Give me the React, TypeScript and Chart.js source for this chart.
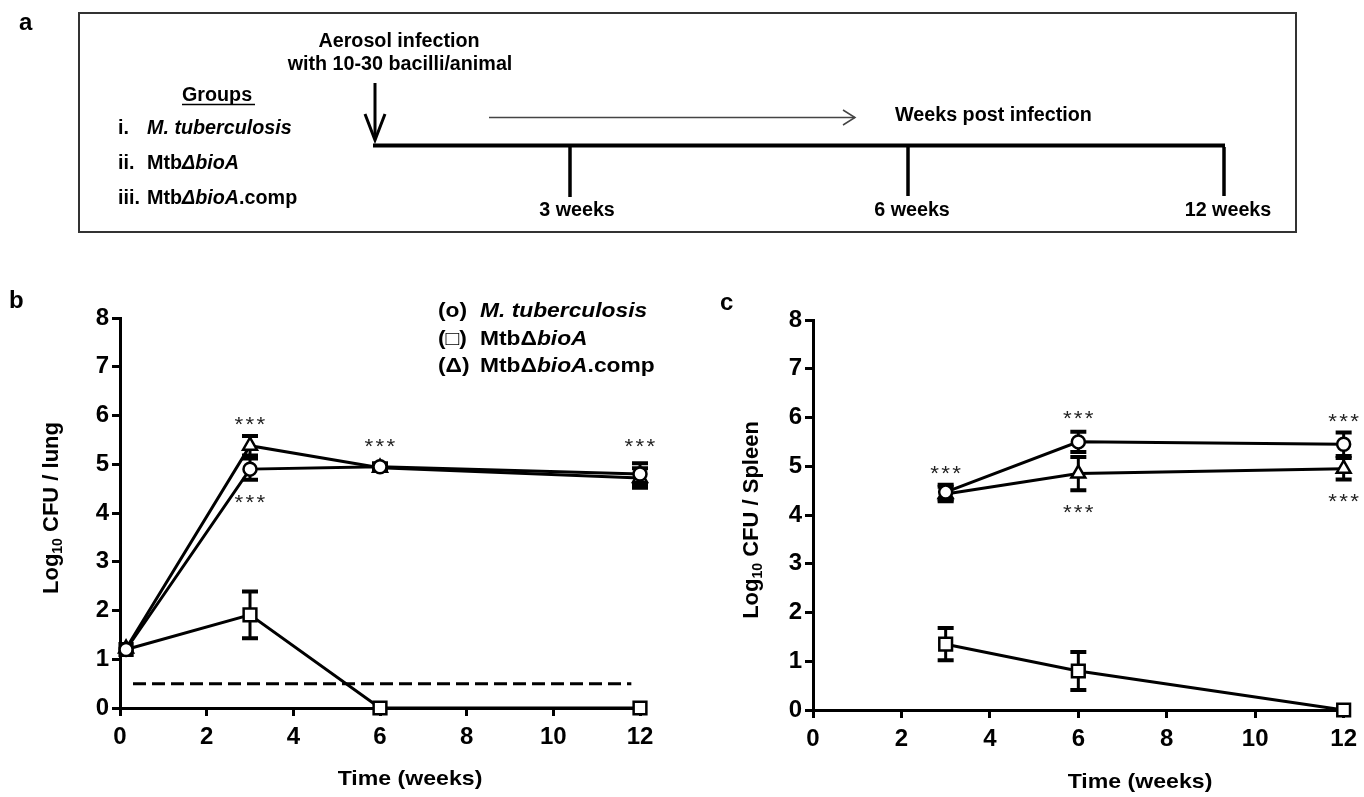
import React, { useEffect, useRef } from "react";
import { Chart, registerables } from "chart.js";

Chart.register(...registerables);

const FONT = "'Liberation Sans', Arial, Helvetica, sans-serif";

// ---------- Panel b: lung ----------
const lungWeeks = [0.14, 3, 6, 12];
const lungMtb = [1.2, 4.9, 4.95, 4.8];
const lungMtbErr = [0, 0.22, 0.07, 0.22];
const lungBioA = [1.2, 1.91, 0, 0];
const lungBioAErr = [0, 0.48, 0, 0];
const lungComp = [1.22, 5.38, 4.93, 4.72];
const lungCompErr = [0, 0.2, 0.07, 0.2];
const lungLimitWeeks = [0.3, 11.8];
const lungLimitLevel = [0.5, 0.5];
const lungSigWeeks = [3, 3, 6, 12];
const lungSigLevels = [5.9, 4.31, 5.46, 5.46];

// ---------- Panel c: spleen ----------
const spleenWeeks = [3, 6, 12];
const spleenMtb = [4.47, 5.5, 5.45];
const spleenMtbErr = [0.15, 0.21, 0.24];
const spleenBioA = [1.35, 0.8, 0];
const spleenBioAErr = [0.33, 0.39, 0];
const spleenComp = [4.43, 4.85, 4.95];
const spleenCompErr = [0.15, 0.34, 0.22];
const spleenSigWeeks = [3, 6, 6, 12, 12];
const spleenSigLevels = [4.95, 6.08, 4.15, 6.02, 4.37];

// ---------- Axes ----------
const xTickValues = [0, 2, 4, 6, 8, 10, 12];
const yTickValues = [0, 1, 2, 3, 4, 5, 6, 7, 8];

// ---------- Legend / labels ----------
const seriesNames = ["M. tuberculosis", "MtbΔbioA", "MtbΔbioA.comp"];
const legendSymbols = ["(o)", "(□)", "(Δ)"];
const timelineLabels = ["3 weeks", "6 weeks", "12 weeks"];

type Seg = { t: string; italic?: boolean; size?: number; dy?: number; weight?: string };

function drawRich(
  ctx: CanvasRenderingContext2D,
  segs: Seg[],
  x: number,
  y: number,
  baseSize: number,
  align: "left" | "center",
  stretch = 1,
  color = "#000"
) {
  const fontFor = (s: Seg) =>
    `${s.italic ? "italic " : ""}${s.weight ?? "bold"} ${s.size ?? baseSize}px ${FONT}`;
  let total = 0;
  const widths = segs.map((s) => {
    ctx.font = fontFor(s);
    const w = ctx.measureText(s.t).width * stretch;
    total += w;
    return w;
  });
  let cx = align === "center" ? x - total / 2 : x;
  segs.forEach((s, i) => {
    ctx.save();
    ctx.font = fontFor(s);
    ctx.fillStyle = color;
    ctx.textAlign = "left";
    ctx.textBaseline = "alphabetic";
    ctx.translate(cx, y + (s.dy ?? 0));
    ctx.scale(stretch, 1);
    ctx.fillText(s.t, 0, 0);
    ctx.restore();
    cx += widths[i];
  });
}

type Series = {
  label: string;
  weeks: number[];
  values: number[];
  errors: number[];
  style: "circle" | "rect" | "triangle";
  radius: number;
};

type PanelOpts = {
  width: number;
  height: number;
  area: { left: number; top: number; right: number; bottom: number };
  series: Series[];
  limit?: { weeks: number[]; level: number[] };
  sigWeeks: number[];
  sigLevels: number[];
  organ: string;
  yTitlePos: { x: number; y: number };
  xTitlePos: { x: number; y: number };
  legend?: { x: number; textX: number; baselines: number[] };
};

function segsForName(name: string): Seg[] {
  if (name === "M. tuberculosis") return [{ t: name, italic: true }];
  const parts = name.split("bioA");
  const segs: Seg[] = [{ t: parts[0] }, { t: "bioA", italic: true }];
  if (parts[1]) segs.push({ t: parts[1] });
  return segs;
}

function makeChart(canvas: HTMLCanvasElement, o: PanelOpts) {
  const datasets: any[] = o.series.map((s) => ({
    label: s.label,
    data: s.weeks.map((w, i) => ({ x: w, y: s.values[i] })),
    errors: s.errors,
    borderColor: "#000",
    borderWidth: 3,
    backgroundColor: "#fff",
    pointStyle: s.style,
    pointRadius: s.radius,
    pointHoverRadius: s.radius,
    pointBorderWidth: 2.5,
    pointBackgroundColor: "#fff",
    pointBorderColor: "#000",
    tension: 0,
    fill: false,
    clip: false,
  }));
  if (o.limit) {
    datasets.push({
      label: "limit",
      data: o.limit.weeks.map((w, i) => ({ x: w, y: o.limit!.level[i] })),
      borderColor: "#000",
      borderWidth: 3,
      borderDash: [13, 6],
      pointRadius: 0,
      pointHoverRadius: 0,
      fill: false,
      clip: false,
    });
  }

  const errorPlugin = {
    id: "errorBars",
    beforeDatasetsDraw(chart: any) {
      const ctx = chart.ctx as CanvasRenderingContext2D;
      const xs = chart.scales.x;
      const ys = chart.scales.y;
      ctx.save();
      ctx.strokeStyle = "#000";
      chart.data.datasets.forEach((ds: any) => {
        if (!ds.errors) return;
        ds.data.forEach((p: any, i: number) => {
          const e = ds.errors[i];
          if (!e) return;
          const px = xs.getPixelForValue(p.x);
          const top = ys.getPixelForValue(p.y + e);
          const bot = ys.getPixelForValue(p.y - e);
          ctx.lineWidth = 3;
          ctx.beginPath();
          ctx.moveTo(px, top);
          ctx.lineTo(px, bot);
          ctx.stroke();
          ctx.lineWidth = 4;
          ctx.beginPath();
          ctx.moveTo(px - 8, top);
          ctx.lineTo(px + 8, top);
          ctx.moveTo(px - 8, bot);
          ctx.lineTo(px + 8, bot);
          ctx.stroke();
        });
      });
      ctx.restore();
    },
  };

  const textPlugin = {
    id: "extraText",
    afterDatasetsDraw(chart: any) {
      const ctx = chart.ctx as CanvasRenderingContext2D;
      const xs = chart.scales.x;
      const ys = chart.scales.y;
      // significance stars
      o.sigWeeks.forEach((w, i) => {
        const px = xs.getPixelForValue(w);
        const py = ys.getPixelForValue(o.sigLevels[i]);
        ctx.save();
        ctx.font = `normal 20px ${FONT}`;
        ctx.fillStyle = "#222";
        ctx.textAlign = "center";
        ctx.textBaseline = "alphabetic";
        try {
          (ctx as any).letterSpacing = "2px";
        } catch (e) {}
        ctx.translate(px + 1, py + 11);
        ctx.scale(1.12, 1);
        ctx.fillText("***", 0, 0);
        ctx.restore();
      });
      // y title
      ctx.save();
      ctx.translate(o.yTitlePos.x, o.yTitlePos.y);
      ctx.rotate(-Math.PI / 2);
      drawRich(
        ctx,
        [{ t: "Log" }, { t: "10", size: 14, dy: 4 }, { t: ` CFU / ${o.organ}` }],
        0,
        8,
        22,
        "center"
      );
      ctx.restore();
      // x title
      drawRich(ctx, [{ t: "Time (weeks)" }], o.xTitlePos.x, o.xTitlePos.y, 21, "center", 1.1);
      // legend
      if (o.legend) {
        o.legend.baselines.forEach((b, i) => {
          drawRich(ctx, [{ t: legendSymbols[i] }], o.legend!.x, b, 20, "left", 1.14);
          drawRich(ctx, segsForName(seriesNames[i]), o.legend!.textX, b, 20, "left", 1.14);
        });
      }
    },
  };

  const tickFont = { family: FONT, size: 24, weight: "bold" as const };

  return new Chart(canvas, {
    type: "line",
    data: { datasets },
    plugins: [errorPlugin, textPlugin],
    options: {
      animation: false,
      responsive: false,
      devicePixelRatio: 1,
      events: [],
      layout: {
        padding: {
          left: 0,
          top: o.area.top,
          right: o.width - o.area.right,
          bottom: 0,
        },
      },
      plugins: {
        legend: { display: false },
        tooltip: { enabled: false },
      },
      scales: {
        x: {
          type: "linear",
          min: 0,
          max: 12,
          afterBuildTicks: (s: any) => {
            s.ticks = xTickValues.map((v) => ({ value: v }));
          },
          afterFit: (s: any) => {
            s.height = o.height - o.area.bottom;
          },
          grid: {
            drawOnChartArea: false,
            drawTicks: true,
            tickLength: 8,
            tickWidth: 3,
            tickColor: "#000",
            color: "#000",
          },
          border: { display: true, color: "#000", width: 3 },
          ticks: {
            color: "#000",
            font: tickFont,
            padding: 7,
            maxRotation: 0,
            autoSkip: false,
          },
        },
        y: {
          type: "linear",
          min: 0,
          max: 8,
          afterBuildTicks: (s: any) => {
            s.ticks = yTickValues.map((v) => ({ value: v }));
          },
          afterFit: (s: any) => {
            s.width = o.area.left;
          },
          grid: {
            drawOnChartArea: false,
            drawTicks: true,
            tickLength: 8,
            tickWidth: 3,
            tickColor: "#000",
            color: "#000",
          },
          border: { display: true, color: "#000", width: 3 },
          ticks: {
            color: "#000",
            font: tickFont,
            padding: 3,
            autoSkip: false,
          },
        },
      },
    } as any,
  });
}

const lungSeries: Series[] = [
  { label: seriesNames[0], weeks: lungWeeks, values: lungMtb, errors: lungMtbErr, style: "circle", radius: 6.5 },
  { label: seriesNames[2], weeks: lungWeeks, values: lungComp, errors: lungCompErr, style: "triangle", radius: 8 },
  { label: seriesNames[1], weeks: lungWeeks, values: lungBioA, errors: lungBioAErr, style: "rect", radius: 9 },
];

const spleenSeries: Series[] = [
  { label: seriesNames[0], weeks: spleenWeeks, values: spleenMtb, errors: spleenMtbErr, style: "circle", radius: 6.5 },
  { label: seriesNames[2], weeks: spleenWeeks, values: spleenComp, errors: spleenCompErr, style: "triangle", radius: 8 },
  { label: seriesNames[1], weeks: spleenWeeks, values: spleenBioA, errors: spleenBioAErr, style: "rect", radius: 9 },
];

const B_LEFT = 0;
const B_TOP = 285;
const C_LEFT = 690;
const C_TOP = 285;

const lungOpts: PanelOpts = {
  width: 690,
  height: 512,
  area: { left: 120, top: 33, right: 640, bottom: 423 },
  series: lungSeries,
  limit: { weeks: lungLimitWeeks, level: lungLimitLevel },
  sigWeeks: lungSigWeeks,
  sigLevels: lungSigLevels,
  organ: "lung",
  yTitlePos: { x: 50, y: 223 },
  xTitlePos: { x: 410, y: 500 },
  legend: { x: 438, textX: 480, baselines: [32, 59.5, 87] },
};

const spleenOpts: PanelOpts = {
  width: 674,
  height: 512,
  area: { left: 123, top: 35, right: 657, bottom: 425 },
  series: spleenSeries,
  sigWeeks: spleenSigWeeks,
  sigLevels: spleenSigLevels,
  organ: "Spleen",
  yTitlePos: { x: 60, y: 235 },
  xTitlePos: { x: 450, y: 503 },
};

function ChartCanvas({ opts, left, top }: { opts: PanelOpts; left: number; top: number }) {
  const ref = useRef<HTMLCanvasElement | null>(null);
  useEffect(() => {
    if (!ref.current) return;
    const chart = makeChart(ref.current, opts);
    return () => chart.destroy();
  }, [opts]);
  return (
    <canvas
      ref={ref}
      width={opts.width}
      height={opts.height}
      style={{ position: "absolute", left, top, width: opts.width, height: opts.height }}
    />
  );
}

const SX = 0.94;

function T({
  x,
  y,
  anchor = "start",
  italic = false,
  size = 21,
  children,
}: {
  x: number;
  y: number;
  anchor?: "start" | "middle";
  italic?: boolean;
  size?: number;
  children: React.ReactNode;
}) {
  return (
    <g transform={`translate(${x},${y}) scale(${SX},1)`}>
      <text
        x={0}
        y={0}
        textAnchor={anchor}
        style={{
          fontFamily: FONT,
          fontWeight: "bold",
          fontSize: size,
          fontStyle: italic ? "italic" : "normal",
          fill: "#000",
        }}
      >
        {children}
      </text>
    </g>
  );
}

function PanelA() {
  const letter = { fontFamily: FONT, fontWeight: "bold" as const, fontSize: 24, fill: "#000" };
  return (
    <svg
      width={1364}
      height={797}
      style={{ position: "absolute", left: 0, top: 0, pointerEvents: "none" }}
    >
      <text x={19} y={30} style={letter}>a</text>
      <text x={9} y={308} style={letter}>b</text>
      <text x={720} y={310} style={letter}>c</text>
      <rect x={79} y={13} width={1217} height={219} fill="none" stroke="#333" strokeWidth={2} />
      <T x={399} y={47} anchor="middle">Aerosol infection</T>
      <T x={400} y={70} anchor="middle">with 10-30 bacilli/animal</T>
      <line x1={375} y1={83} x2={375} y2={139} stroke="#000" strokeWidth={3} />
      <polyline points="365,114 375,140 385,114" fill="none" stroke="#000" strokeWidth={3} />
      <T x={182} y={101}>Groups</T>
      <line x1={182} y1={104.5} x2={255} y2={104.5} stroke="#000" strokeWidth={1.5} />
      <T x={118} y={134}>i.</T>
      <T x={147} y={134} italic>{seriesNames[0]}</T>
      <T x={118} y={169}>ii.</T>
      <T x={147} y={169}>
        Mtb<tspan fontStyle="italic">ΔbioA</tspan>
      </T>
      <T x={118} y={204}>iii.</T>
      <T x={147} y={204}>
        Mtb<tspan fontStyle="italic">ΔbioA</tspan>.comp
      </T>
      <line x1={489} y1={117.5} x2={855} y2={117.5} stroke="#444" strokeWidth={1.5} />
      <polyline points="843,110 855,117.5 843,125" fill="none" stroke="#444" strokeWidth={1.5} />
      <T x={895} y={121}>Weeks post infection</T>
      <line x1={373} y1={145.5} x2={1225} y2={145.5} stroke="#000" strokeWidth={4} />
      <line x1={570} y1={147} x2={570} y2={197} stroke="#000" strokeWidth={3.5} />
      <line x1={908} y1={147} x2={908} y2={196} stroke="#000" strokeWidth={3.5} />
      <line x1={1224} y1={147} x2={1224} y2={196} stroke="#000" strokeWidth={3.5} />
      <T x={577} y={216} anchor="middle">{timelineLabels[0]}</T>
      <T x={912} y={216} anchor="middle">{timelineLabels[1]}</T>
      <T x={1228} y={216} anchor="middle">{timelineLabels[2]}</T>
    </svg>
  );
}

export default function App() {
  return (
    <div
      style={{
        position: "absolute",
        left: 0,
        top: 0,
        width: 1364,
        height: 797,
        background: "#fff",
        overflow: "hidden",
      }}
    >
      <ChartCanvas opts={lungOpts} left={B_LEFT} top={B_TOP} />
      <ChartCanvas opts={spleenOpts} left={C_LEFT} top={C_TOP} />
      <PanelA />
    </div>
  );
}
